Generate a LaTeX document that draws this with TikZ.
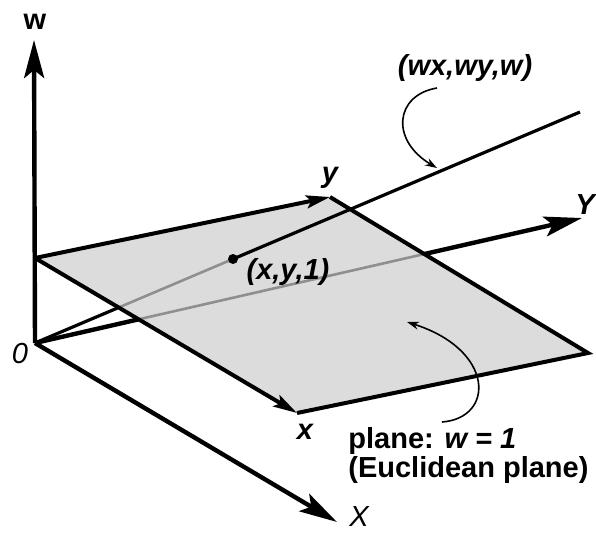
\documentclass[tikz,border=0pt]{standalone}
\usepackage{fontspec}
\setmainfont{Liberation Sans}
\usepackage{tikz}
\usetikzlibrary{arrows.meta, calc}
\definecolor{planebg}{HTML}{DCDCDC}
\definecolor{hiddenline}{HTML}{8F8F8F}
\tikzset{
  axis arrow/.style={
    -{Stealth[length=19pt, width=10pt, inset=4pt]},
    line width=2.2pt
  },
  edge arrow/.style={
    -{Stealth[length=12pt, width=6.5pt, inset=2.5pt]},
    line width=2pt
  },
  plane edge/.style={line width=2pt, line join=miter},
  ray line/.style={line width=1.6pt},
  hidden line/.style={line width=1.3pt, color=hiddenline},
  note arrow/.style={-{Stealth[length=6pt, width=4pt]}, line width=0.8pt},
  lbl/.style={font=\fontsize{14.5}{13}\selectfont\bfseries\itshape, inner sep=0pt},
  thin lbl/.style={font=\fontsize{14.5}{13}\selectfont\itshape, inner sep=0pt},
  text lbl/.style={font=\fontsize{14.5}{13}\selectfont\bfseries, inner sep=0pt}
}

\begin{document}
\begin{tikzpicture}[x=0.5pt, y=-0.5pt]
  \useasboundingbox (0,0) rectangle (596,532);

  % Origin, plane corners and ray points
  \coordinate (O) at (35,343);
  \coordinate (A) at (35,258);
  \coordinate (B) at (330,197);
  \coordinate (C) at (588,353);
  \coordinate (D) at (297,413);
  \coordinate (P) at (233,259);
  \coordinate (E) at (580,112);
  \coordinate (wtip) at (34,40);
  \coordinate (Xtip) at (337,522);
  \coordinate (Ytip) at (582,218);

  % Axes below the plane
  \draw[axis arrow] (O) -- (Xtip);
  \draw[axis arrow] (O) -- (Ytip);
  \draw[ray line] (O) -- (P);

  % Plane w = 1
  \fill[planebg] (A) -- (B) -- (C) -- (D) -- cycle;
  \begin{scope}
    \clip (A) -- (B) -- (C) -- (D) -- cycle;
    \draw[hidden line] (O) -- (Ytip);
    \draw[hidden line] (O) -- (P);
  \end{scope}
  \draw[plane edge] (B) -- (C) -- (D);
  \draw[edge arrow] (A) -- (D);
  \draw[edge arrow] (A) -- (B);
  \draw[axis arrow] (O) -- (wtip);

  % Ray through (x,y,1)
  \draw[ray line] (P) -- (E);
  \fill (P) circle[radius=2.5pt];

  % Labels
  \node[text lbl] (wlbl) at (35,22) {w};
  \node[lbl] (wxlbl) at (465,68) {(wx,wy,w)};
  \node[lbl] (plbl) at (288,272) {(x,y,1)};
  \node[lbl] (ylbl) at (330,178) {y};
  \node[lbl] (Ylbl) at (585,205) {Y};
  \node[lbl] (xlbl) at (305,432) {x};
  \node[thin lbl] (Xlbl) at (359,517) {X};
  \node[thin lbl] (Olbl) at (20,354) {0};
  \node[text lbl, align=left, anchor=north west] (planelbl) at (348,427)
    {plane: \textit{w = 1}\\(Euclidean plane)};

  % Pointers
  \coordinate (raynote) at (437,88);
  \coordinate (rayhit) at (437,168);
  \draw[note arrow] (raynote) .. controls (395,95) and (390,140) .. (rayhit);
  \coordinate (planenote) at (442,422);
  \coordinate (planehit) at (407,322);
  \draw[note arrow] (planenote) .. controls (495,418) and (495,350) .. (planehit);
\end{tikzpicture}
\end{document}
